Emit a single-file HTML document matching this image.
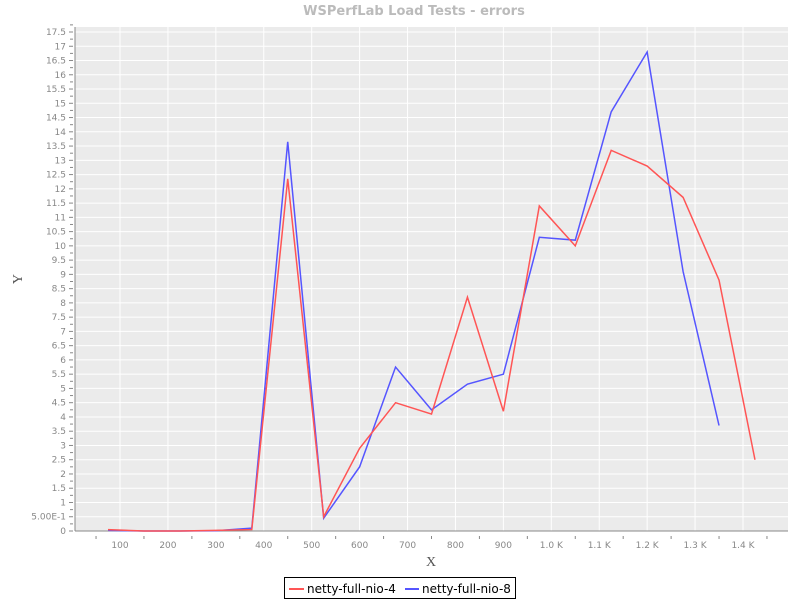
<!DOCTYPE html>
<html><head><meta charset="utf-8"><style>
body{margin:0;background:#fff;}
svg{display:block;font-family:"DejaVu Sans","Liberation Sans",sans-serif;}
</style></head><body>
<svg id="c" width="800" height="600">
<text x="414" y="15" text-anchor="middle" font-size="13" font-weight="bold" fill="#bbb">WSPerfLab Load Tests - errors</text>
<rect x="75" y="27" width="713" height="504" fill="#ebebeb"/>
<g id="grid"></g>
<g id="axes"></g>
<g id="series"></g>
<text x="431" y="566" text-anchor="middle" font-size="14" fill="#555" font-family="Liberation Serif,serif">X</text>
<text x="22" y="279" text-anchor="middle" font-size="14" fill="#555" font-family="Liberation Serif,serif" transform="rotate(-90 22 279)">Y</text>
<g>
<rect x="284.5" y="577.5" width="231" height="21" fill="#fff" stroke="#000"/>
<line x1="289" y1="589" x2="304" y2="589" stroke="#ff5555" stroke-width="2"/>
<text x="307" y="593" font-size="12" fill="#000">netty-full-nio-4</text>
<line x1="405" y1="589" x2="419" y2="589" stroke="#5555ff" stroke-width="2"/>
<text x="422" y="593" font-size="12" fill="#000">netty-full-nio-8</text>
</g>
</svg>
<script>
const xs4 = [75,150,225,300,375,450,525,600,675,750,825,900,975,1050,1125,1200,1275,1350,1425];
const nio4 = [0.05,0,0,0.02,0.05,12.35,0.5,2.9,4.5,4.1,8.2,4.2,11.4,10.0,13.35,12.8,11.7,8.8,2.5];
const xs8 = [75,150,225,300,375,450,525,600,675,750,825,900,975,1050,1125,1200,1275,1350];
const nio8 = [0.02,0,0,0.01,0.1,13.65,0.45,2.25,5.75,4.25,5.15,5.5,10.3,10.2,14.7,16.8,9.1,3.7];
const xTicks = [100,200,300,400,500,600,700,800,900,1000,1100,1200,1300,1400];
const xTickLabels = ["100","200","300","400","500","600","700","800","900","1.0 K","1.1 K","1.2 K","1.3 K","1.4 K"];

const NS="http://www.w3.org/2000/svg";
const X=v=>120+(v-100)*0.47923;
const Y=v=>531-v*28.514;
function mk(tag,attrs,parent){const e=document.createElementNS(NS,tag);for(const k in attrs)e.setAttribute(k,attrs[k]);document.getElementById(parent).appendChild(e);return e;}
// y grid & ticks
for(let i=0;i<=35;i++){const v=i*0.5,y=Y(v);
 if(i>0){const g=mk('line',{x1:75,x2:788,y1:y,y2:y,stroke:'#fff','stroke-width':1},'grid');
 
 }
 mk('line',{x1:69,x2:73,y1:y,y2:y,stroke:'#888'},'axes');
 mk('line',{x1:70,x2:73,y1:Y(v+0.25),y2:Y(v+0.25),stroke:'#888'},'axes');
 const t=mk('text',{x:66,y:y+3,'text-anchor':'end','font-size':9,fill:'#888'},'axes');
 t.textContent=(v===0.5)?'5.00E-1':String(v);
 
 
}
xTicks.forEach((v,i)=>{const x=X(v);
 const g=mk('line',{x1:x,x2:x,y1:27,y2:531,stroke:'#fff'},'grid');
 
 
 mk('line',{x1:X(v-50),x2:X(v-50),y1:536,y2:539,stroke:'#888'},'axes');
 const t=mk('text',{x:x,y:548,'text-anchor':'middle','font-size':9,fill:'#888'},'axes');
 t.textContent=xTickLabels[i];
 
 
});
mk('line',{x1:X(1450),x2:X(1450),y1:536,y2:539,stroke:'#888'},'axes');
mk('line',{x1:75,x2:75,y1:27,y2:531,stroke:'#888'},'axes');
mk('line',{x1:75,x2:788,y1:531,y2:531,stroke:'#888'},'axes');
function line(xs,vals,color,name){
 const p=mk('polyline',{points:xs.map((x,i)=>X(x)+','+Y(vals[i])).join(' '),fill:'none',stroke:color,'stroke-width':1.5},'series');
 
 
}
line(xs8,nio8,'#5555ff','series-netty-full-nio-8');
line(xs4,nio4,'#ff5555','series-netty-full-nio-4');
</script>
</body></html>
